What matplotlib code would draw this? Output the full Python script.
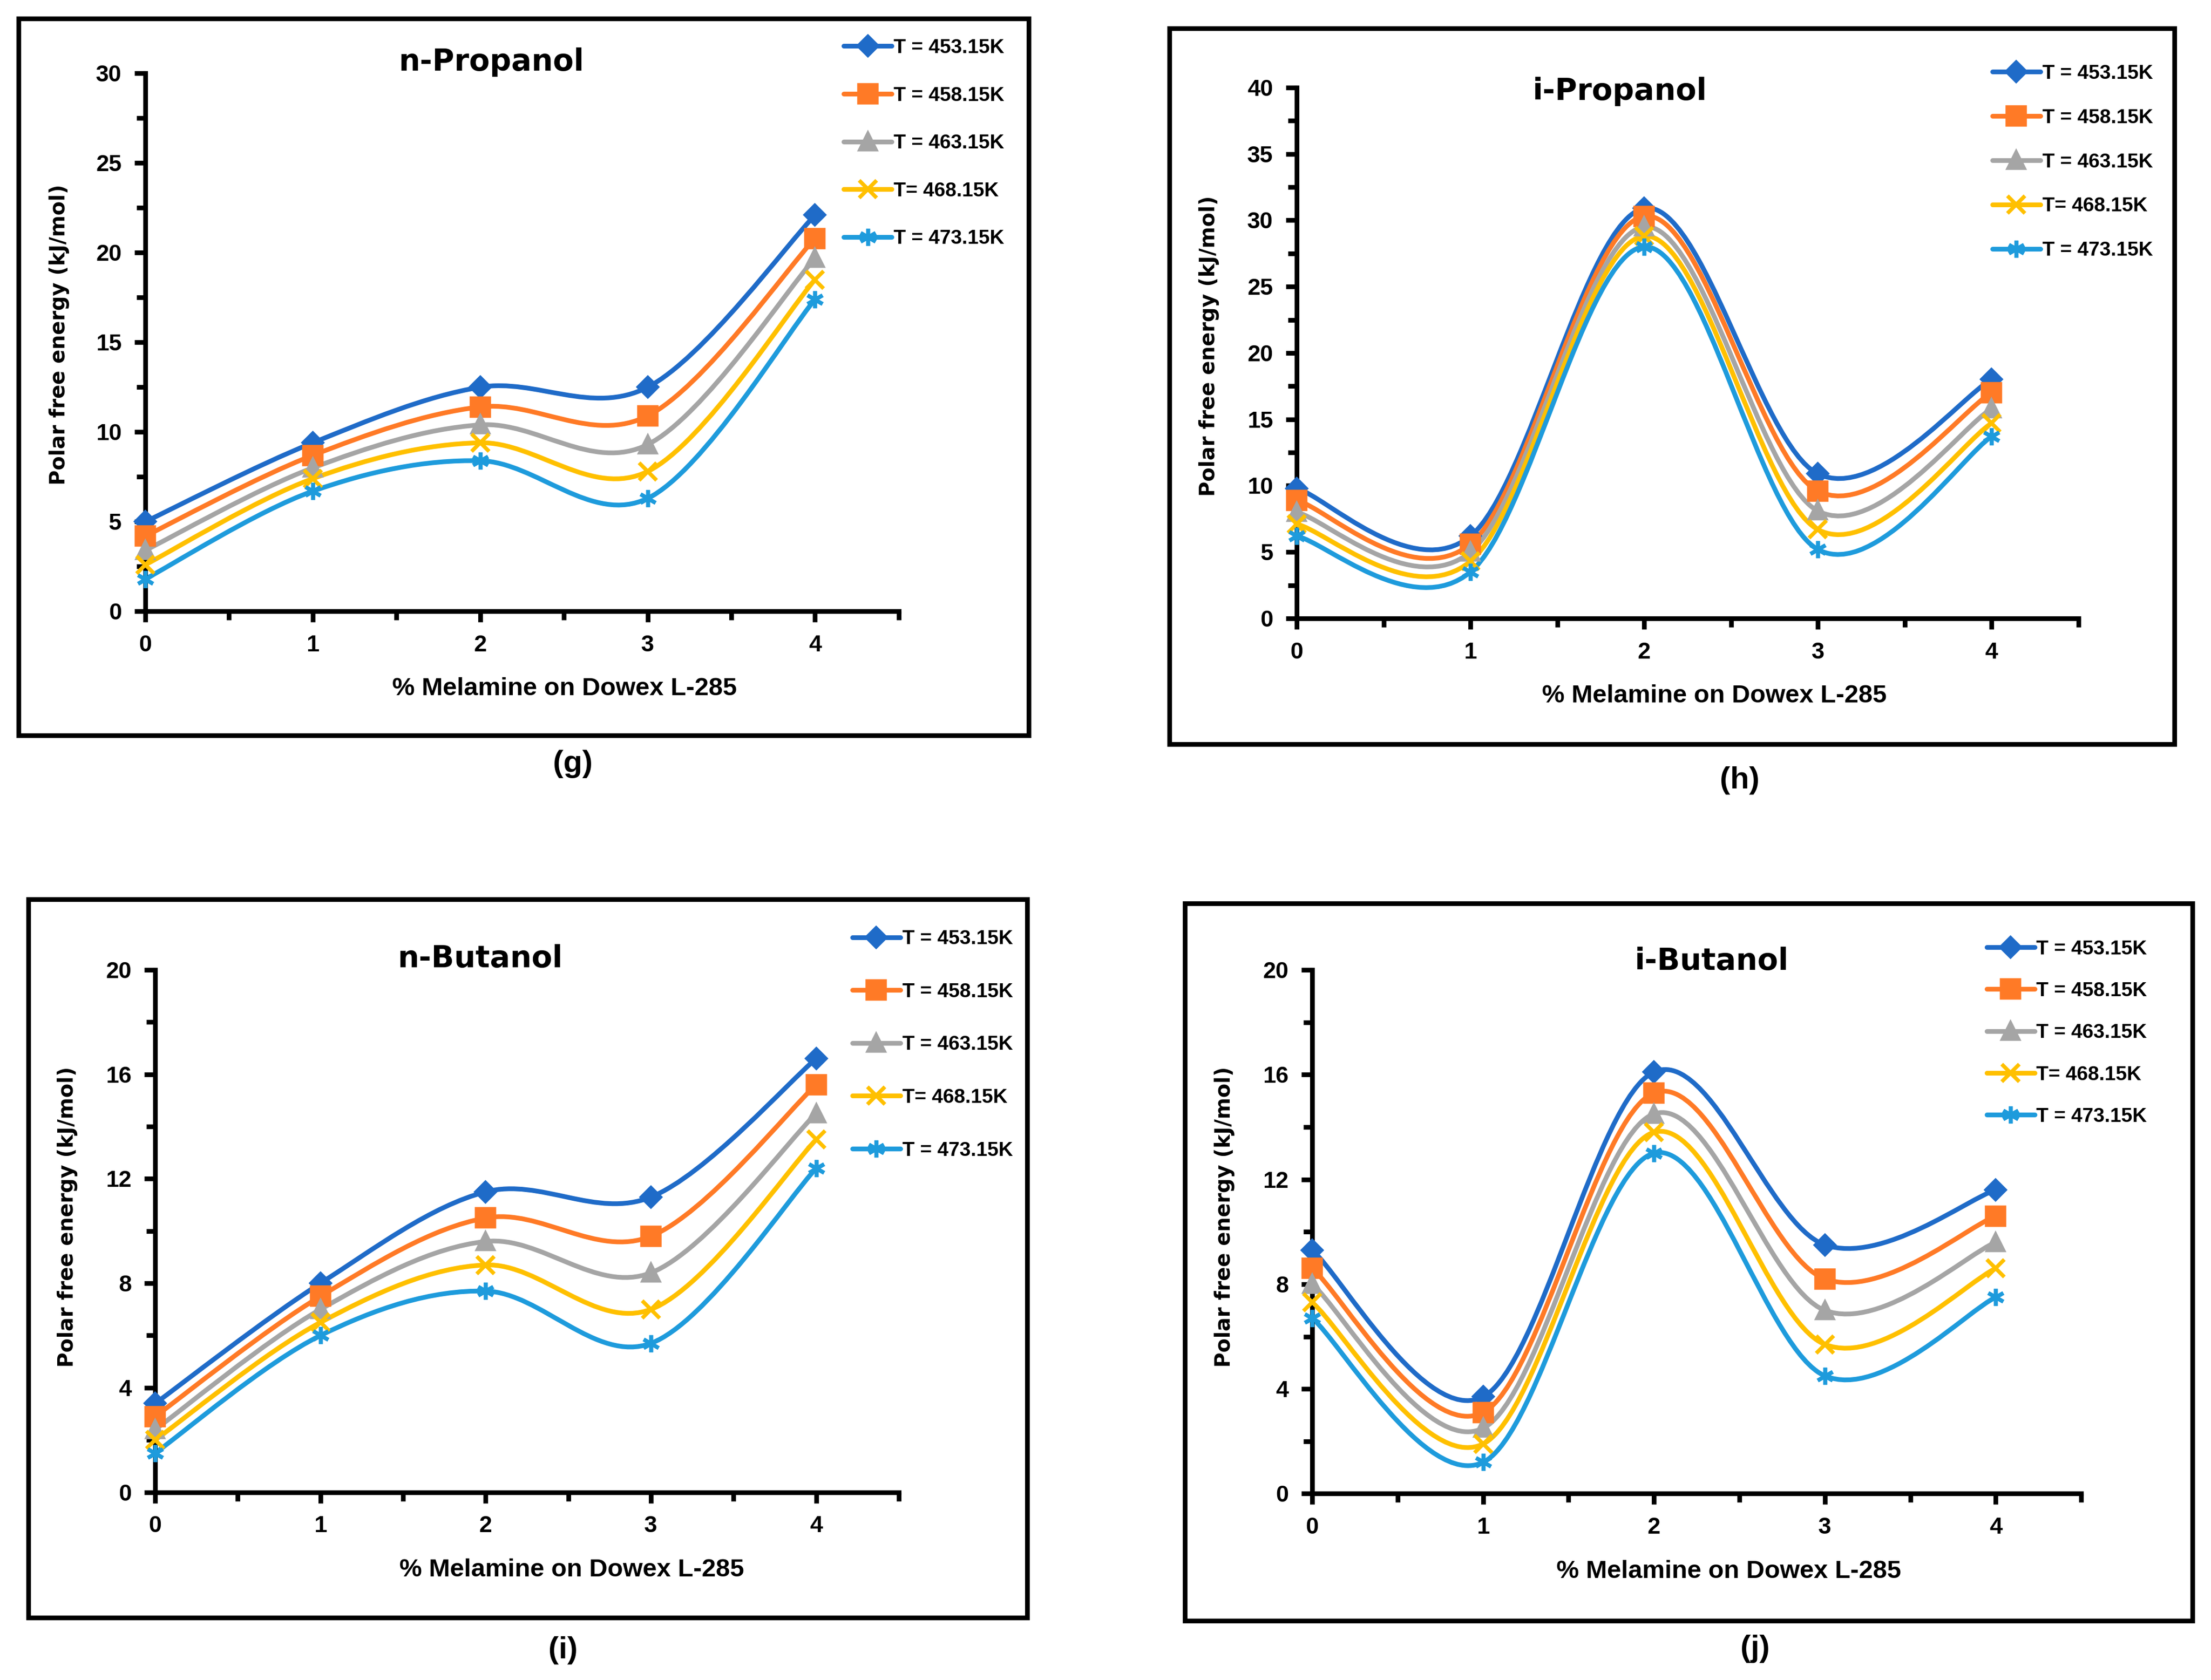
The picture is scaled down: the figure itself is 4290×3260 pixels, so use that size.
import matplotlib.pyplot as plt
from matplotlib.path import Path
from matplotlib.patches import PathPatch, Rectangle
from matplotlib.lines import Line2D

plt.rcParams['font.family'] = ['Liberation Sans', 'DejaVu Sans']
plt.rcParams['font.weight'] = 'bold'

# % melamine on Dowex L-285
x = [0, 1, 2, 3, 4]
temps = ['T = 453.15K', 'T = 458.15K', 'T = 463.15K', 'T= 468.15K', 'T = 473.15K']

# (g) n-Propanol
n_propanol = [
    [5.0, 9.4, 12.5, 12.5, 22.1],
    [4.2, 8.7, 11.4, 10.9, 20.8],
    [3.4, 8.0, 10.4, 9.3, 19.7],
    [2.6, 7.4, 9.4, 7.8, 18.5],
    [1.8, 6.7, 8.4, 6.3, 17.4],
]
# (h) i-Propanol
i_propanol = [
    [9.8, 6.2, 30.9, 10.9, 18.0],
    [8.9, 5.6, 30.3, 9.6, 17.0],
    [8.0, 5.0, 29.5, 8.1, 15.8],
    [7.1, 4.3, 28.8, 6.7, 14.7],
    [6.2, 3.5, 28.0, 5.2, 13.7],
]
# (i) n-Butanol
n_butanol = [
    [3.4, 8.0, 11.5, 11.3, 16.6],
    [2.9, 7.5, 10.5, 9.8, 15.6],
    [2.4, 7.0, 9.6, 8.4, 14.5],
    [2.0, 6.5, 8.7, 7.0, 13.5],
    [1.5, 6.0, 7.7, 5.7, 12.4],
]
# (j) i-Butanol
i_butanol = [
    [9.3, 3.7, 16.1, 9.5, 11.6],
    [8.6, 3.1, 15.3, 8.2, 10.6],
    [8.0, 2.5, 14.5, 7.0, 9.6],
    [7.3, 1.9, 13.8, 5.7, 8.6],
    [6.7, 1.2, 13.0, 4.5, 7.5],
]

colors = ['#1F6BC8', '#FF7A26', '#A5A5A5', '#FFC000', '#1E9BDC']
markers = ['D', 's', '^', 'x', (6, 2, 0)]
msizes = [6, 8, 7, 8, 8]


def smooth_line(ax, xs, ys, color):
    # excel-like smoothed line: bezier segments through the data points
    n = len(xs)
    verts = [(xs[0], ys[0])]
    codes = [Path.MOVETO]
    for i in range(n - 1):
        a = max(i - 1, 0)
        b = min(i + 2, n - 1)
        c1 = (xs[i] + (xs[i + 1] - xs[a]) / 6, ys[i] + (ys[i + 1] - ys[a]) / 6)
        c2 = (xs[i + 1] - (xs[b] - xs[i]) / 6, ys[i + 1] - (ys[b] - ys[i]) / 6)
        verts += [c1, c2, (xs[i + 1], ys[i + 1])]
        codes += [Path.CURVE4] * 3
    patch = PathPatch(Path(verts, codes), facecolor='none', edgecolor=color,
                      lw=2.2, capstyle='round', transform=ax.transData, clip_on=False)
    ax.add_patch(patch)


fig = plt.figure(figsize=(14.3, 10.8667), dpi=300)

panels = [
    # data, title, ymax, ystep, axes rect, box rect, title pos, xlabel pos, letter, letter pos, ylabel pos, legend pos, legend spacing
    (n_propanol, 'n-Propanol', 30, 5, [0.0657, 0.6361, 0.3408, 0.3202], [0.0083, 0.5622, 0.4569, 0.4269],
     (0.2221, 0.963), (0.2553, 0.5899), '(g)', (0.2591, 0.5454), (0.0268, 0.8008), (0.3816, 0.977), 1.46),
    (i_propanol, 'i-Propanol', 40, 5, [0.5865, 0.6319, 0.3535, 0.3160], [0.5290, 0.5571, 0.4544, 0.4260],
     (0.7326, 0.9454), (0.7754, 0.5857), '(h)', (0.7869, 0.5353), (0.5469, 0.794), (0.9011, 0.9618), 1.29),
    (n_butanol, 'n-Butanol', 20, 4, [0.0702, 0.1118, 0.3363, 0.3109], [0.0128, 0.0370, 0.4518, 0.4277],
     (0.2170, 0.4294), (0.2585, 0.0655), '(i)', (0.2546, 0.0176), (0.0306, 0.2756), (0.3855, 0.4466), 1.72),
    (i_butanol, 'i-Butanol', 20, 4, [0.5935, 0.1109, 0.3478, 0.3118], [0.5360, 0.0353, 0.4556, 0.4269],
     (0.7741, 0.4277), (0.7818, 0.0647), '(j)', (0.7939, 0.0185), (0.5539, 0.2756), (0.8985, 0.4406), 1.17),
]

for (data, title, ymax, ystep, arect, brect, tpos, xlpos, letter, lpos, ylpos, legpos, lsp) in panels:
    ax = fig.add_axes(arect)
    for k in range(5):
        smooth_line(ax, x, data[k], colors[k])
        ax.plot(x, data[k], linestyle='none', marker=markers[k], ms=msizes[k],
                color=colors[k], mec=colors[k], mew=1.8, clip_on=False, zorder=3)
    ax.set_xlim(0, 4.5)
    ax.set_ylim(0, ymax)
    ax.set_xticks(x)
    ax.set_xticks([0.5, 1.5, 2.5, 3.5, 4.5], minor=True)
    ax.set_yticks(range(0, ymax + 1, ystep))
    ax.set_yticks([v + ystep / 2 for v in range(0, ymax, ystep)], minor=True)
    for s in ['top', 'right']:
        ax.spines[s].set_visible(False)
    for s in ['left', 'bottom']:
        ax.spines[s].set_linewidth(2.2)
    ax.tick_params(which='major', direction='out', length=5, width=2.2, labelsize=10.8, pad=6)
    ax.tick_params(which='minor', direction='out', length=4, width=2.2)

    fig.text(tpos[0], tpos[1], title, ha='center', va='center', fontsize=14,
             family='DejaVu Sans', weight='bold')
    fig.text(xlpos[0], xlpos[1], '% Melamine on Dowex L-285', ha='center', va='center', fontsize=11.8)
    fig.text(lpos[0], lpos[1], letter, ha='center', va='center', fontsize=14.5)
    fig.text(ylpos[0], ylpos[1], 'Polar free energy (kJ/mol)', ha='center', va='center',
             rotation=90, fontsize=9.6, family='DejaVu Sans', weight='bold')

    handles = [Line2D([], [], color=colors[k], lw=2.2, marker=markers[k], ms=msizes[k],
                      mec=colors[k], mew=1.8, solid_capstyle='round') for k in range(5)]
    fig.legend(handles, temps, loc='upper left', bbox_to_anchor=legpos, frameon=False,
               fontsize=9.3, labelspacing=lsp, handlelength=2.4, handletextpad=0.1,
               borderpad=0, borderaxespad=0)

    fig.add_artist(Rectangle((brect[0], brect[1]), brect[2], brect[3], transform=fig.transFigure,
                             fill=False, edgecolor='black', lw=2.2))

fig.savefig('out.png', dpi=300)
